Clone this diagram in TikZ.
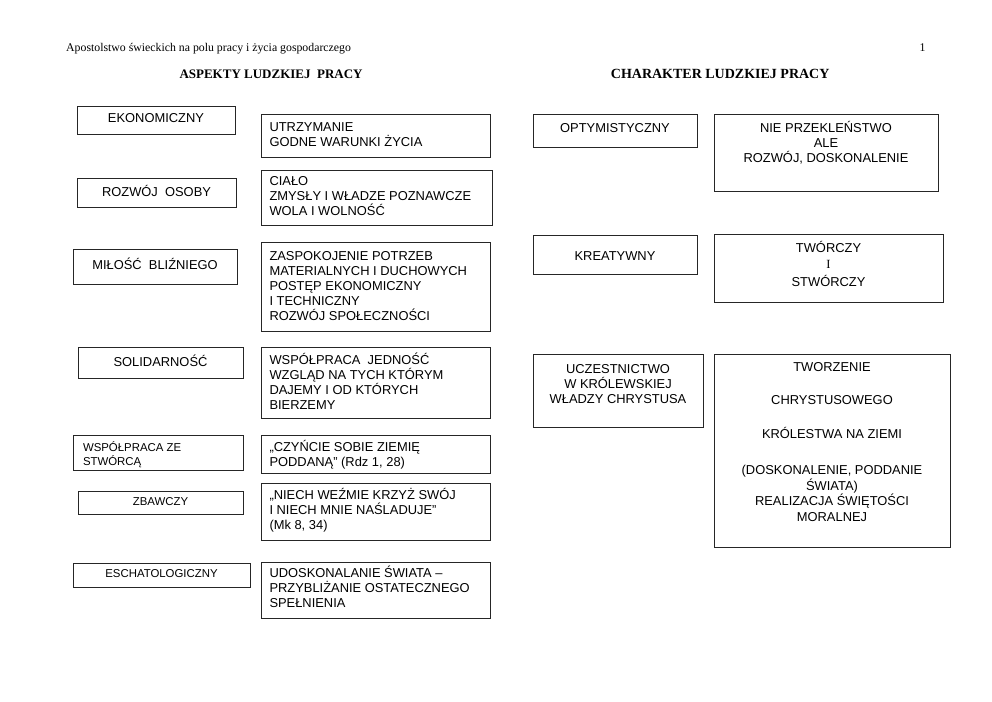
\documentclass[tikz,border=0pt]{standalone}
\usepackage{fontspec}
\setmainfont{Liberation Sans}
\newfontfamily\serifrm{Liberation Serif}
\usetikzlibrary{shadows}
\newcommand\bodyf{\fontsize{12.9}{15}\selectfont}
\newcommand\smallf{\fontsize{11.4}{14}\selectfont}
\tikzset{
  boxst/.style={draw=black!85, line width=0.7pt, fill=white, inner sep=0pt, outer sep=0pt,
    anchor=north west, drop shadow={shadow xshift=1.3pt, shadow yshift=-1.3pt, opacity=0.6}},
  txt/.style={inner sep=0pt, outer sep=0pt, font=\bodyf},
  ctr/.style={txt, anchor=base},
  lft/.style={txt, anchor=base west}
}
\newcommand\boxat[5]{\node[boxst, minimum width={#4pt-#2pt}, minimum height={#5pt-#3pt}] (#1) at (#2,#3) {};}
\newcommand\centtext[4]{\node[ctr] (#1) at ([yshift=-#3pt]#2.north) {\parbox[t]{240pt}{\centering #4}};}
\newcommand\lefttext[5]{\node[lft] (#1) at ([xshift=#3pt,yshift=-#4pt]#2.north west) {\parbox[t]{225pt}{\raggedright #5}};}
\begin{document}
\begin{tikzpicture}[x=1pt,y=-1pt]
\useasboundingbox (0,0) rectangle (992,701);
% headers
\node[anchor=base west, inner sep=0pt, font=\serifrm\fontsize{11.8}{14}\selectfont] (hdr) at (66,51.7) {Apostolstwo świeckich na polu pracy i życia gospodarczego};
\node[anchor=base west, inner sep=0pt, font=\serifrm\fontsize{11.8}{14}\selectfont] (pg) at (919.5,51.7) {1};
\node[anchor=base west, inner sep=0pt, font=\serifrm\bfseries\fontsize{13}{15}\selectfont] (h1) at (179.3,78.3) {ASPEKTY LUDZKIEJ\ \ PRACY};
\node[anchor=base west, inner sep=0pt, font=\serifrm\bfseries\fontsize{14}{16}\selectfont] (h2) at (610.7,78.3) {CHARAKTER LUDZKIEJ PRACY};
% left column
\boxat{l1}{77}{106}{235}{134}
\boxat{l2}{77}{178}{236}{207}
\boxat{l3}{73}{249}{237}{284}
\boxat{l4}{78}{347}{243}{378}
\boxat{l5}{73}{435}{243}{470}
\boxat{l6}{78}{491}{243}{514}
\boxat{l7}{73}{563}{250}{587}
\centtext{tl1}{l1}{16.7}{EKONOMICZNY}
\centtext{tl2}{l2}{18.5}{ROZWÓJ\ \ OSOBY}
\centtext{tl3}{l3}{20.2}{MIŁOŚĆ\ \ BLIŹNIEGO}
\centtext{tl4}{l4}{19}{SOLIDARNOŚĆ}
\node[lft, font=\smallf] (tl5) at ([xshift=10pt,yshift=-16.5pt]l5.north west) {\parbox[t]{150pt}{\raggedright WSPÓŁPRACA ZE\\STWÓRCĄ}};
\node[ctr, font=\smallf] (tl6) at ([yshift=-14pt]l6.north) {\parbox[t]{150pt}{\centering ZBAWCZY}};
\node[ctr, font=\smallf] (tl7) at ([yshift=-14pt]l7.north) {\parbox[t]{170pt}{\centering ESCHATOLOGICZNY}};
% second column
\boxat{r1}{261}{114}{490}{157}
\boxat{r2}{261}{170}{492}{225}
\boxat{r3}{261}{242}{490}{331}
\boxat{r4}{261}{347}{490}{418}
\boxat{r5}{261}{435}{490}{473}
\boxat{r6}{261}{483}{490}{540}
\boxat{r7}{261}{562}{490}{618}
\lefttext{tr1}{r1}{8.5}{17.5}{UTRZYMANIE\\GODNE WARUNKI ŻYCIA}
\lefttext{tr2}{r2}{8.5}{15.8}{CIAŁO\\ZMYSŁY I WŁADZE POZNAWCZE\\WOLA I WOLNOŚĆ}
\lefttext{tr3}{r3}{8.5}{18.3}{ZASPOKOJENIE POTRZEB\\MATERIALNYCH I DUCHOWYCH\\POSTĘP EKONOMICZNY\\I TECHNICZNY\\ROZWÓJ SPOŁECZNOŚCI}
\lefttext{tr4}{r4}{8.5}{17}{WSPÓŁPRACA\ \ JEDNOŚĆ\\WZGLĄD NA TYCH KTÓRYM\\DAJEMY I OD KTÓRYCH\\BIERZEMY}
\lefttext{tr5}{r5}{8.5}{16}{„CZYŃCIE SOBIE ZIEMIĘ\\PODDANĄ” (Rdz 1, 28)}
\lefttext{tr6}{r6}{8.5}{16}{„NIECH WEŹMIE KRZYŻ SWÓJ\\I NIECH MNIE NAŚLADUJE”\\(Mk 8, 34)}
\lefttext{tr7}{r7}{8.5}{15.5}{UDOSKONALANIE ŚWIATA –\\PRZYBLIŻANIE OSTATECZNEGO\\SPEŁNIENIA}
% right side
\boxat{c1}{533}{114}{697}{147}
\boxat{c2}{714}{114}{938}{191}
\boxat{c3}{533}{235}{697}{274}
\boxat{c4}{714}{234}{943}{302}
\boxat{c5}{533}{354}{703}{427}
\boxat{c6}{714}{354}{950}{547}
\centtext{tc1}{c1}{18}{OPTYMISTYCZNY}
\centtext{tc2}{c2}{18}{NIE PRZEKLEŃSTWO\\ALE\\ROZWÓJ, DOSKONALENIE}
\centtext{tc3}{c3}{25.5}{KREATYWNY}
\centtext{tc4}{c4}{18}{TWÓRCZY\\[1pt]{\serifrm\fontsize{12.5}{15}\selectfont I}\\[3pt]STWÓRCZY}
\centtext{tc5}{c5}{19.5}{UCZESTNICTWO\\W KRÓLEWSKIEJ\\WŁADZY CHRYSTUSA}
\centtext{tc6}{c6}{17.5}{TWORZENIE\\[18pt]CHRYSTUSOWEGO\\[19pt]KRÓLESTWA NA ZIEMI\\[21pt](DOSKONALENIE, PODDANIE\\[0.5pt]ŚWIATA)\\[0.5pt]REALIZACJA ŚWIĘTOŚCI\\[0.5pt]MORALNEJ}
\end{tikzpicture}
\end{document}
